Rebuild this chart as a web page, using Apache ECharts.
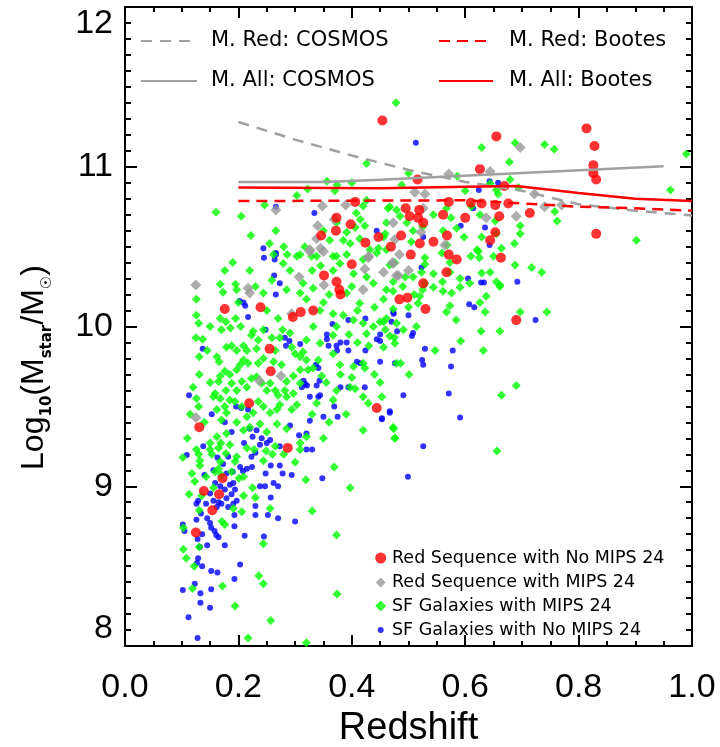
<!DOCTYPE html>
<html>
<head>
<meta charset="utf-8">
<script src="https://cdn.jsdelivr.net/npm/echarts@6/dist/echarts.min.js"></script>
<style>html,body{margin:0;padding:0;background:#fff;}#c{width:720px;height:747px;}</style>
</head>
<body>
<div id="c"></div>
<script>
// ---- tick labels ----
const xTicks = [0.0, 0.2, 0.4, 0.6, 0.8, 1.0];
const yTicks = [8, 9, 10, 11, 12];

// ---- characteristic mass curves [redshift, log M] ----
const cosmosRed = [[0.2,11.28],[0.3,11.17],[0.4,11.07],[0.5,10.98],[0.6,10.905],[0.7,10.85],[0.8,10.765],[0.9,10.725],[1.0,10.695]];
const cosmosAll = [[0.2,10.905],[0.35,10.905],[0.45,10.918],[0.95,11.003]];
const bootesRed = [[0.2,10.785],[0.6,10.79],[0.7,10.77],[0.8,10.75],[0.9,10.74],[1.0,10.725]];
const bootesAll = [[0.2,10.87],[0.45,10.865],[0.6,10.875],[0.69,10.88],[0.8,10.835],[0.9,10.80],[1.0,10.785]];

// ---- Red sequence, no MIPS 24 ----
const redNoMips = [[0.454,11.29],[0.655,11.19],[0.814,11.24],[0.828,11.13],[0.826,11.01],[0.826,10.96],[0.831,10.92],[0.831,10.58],[0.626,10.985],[0.516,10.92],[0.669,10.88],[0.714,10.71],[0.676,10.77],[0.653,10.76],[0.629,10.77],[0.61,10.775],[0.571,10.78],[0.561,10.70],[0.60,10.68],[0.66,10.69],[0.568,10.57],[0.571,10.45],[0.585,10.42],[0.567,10.34],[0.653,10.59],[0.644,10.54],[0.663,10.43],[0.544,10.53],[0.52,10.52],[0.495,10.74],[0.502,10.69],[0.517,10.68],[0.519,10.73],[0.526,10.65],[0.487,10.57],[0.469,10.50],[0.504,10.45],[0.526,10.27],[0.406,10.78],[0.373,10.68],[0.372,10.60],[0.398,10.64],[0.346,10.57],[0.424,10.525],[0.447,10.56],[0.484,10.17],[0.498,10.18],[0.53,10.11],[0.69,10.04],[0.176,10.11],[0.239,10.12],[0.255,9.86],[0.257,9.72],[0.219,9.52],[0.131,9.37],[0.287,9.24],[0.296,10.06],[0.31,10.09],[0.332,10.10],[0.351,10.32],[0.378,10.23],[0.38,10.20],[0.40,10.39],[0.373,10.28],[0.444,9.49],[0.172,9.05],[0.139,8.97],[0.166,8.95],[0.154,8.85],[0.125,8.71]];

// ---- Red sequence with MIPS 24 ----
const grayMips = [[0.697,11.12],[0.571,10.955],[0.644,10.97],[0.511,10.84],[0.529,10.83],[0.526,10.74],[0.722,10.83],[0.74,10.75],[0.77,10.76],[0.69,10.69],[0.637,10.68],[0.473,10.65],[0.476,10.545],[0.522,10.59],[0.484,10.45],[0.472,10.40],[0.50,10.35],[0.482,10.32],[0.456,10.34],[0.564,10.51],[0.266,10.73],[0.348,10.755],[0.389,10.76],[0.369,10.67],[0.34,10.63],[0.338,10.55],[0.326,10.48],[0.345,10.49],[0.43,10.44],[0.125,10.26],[0.217,10.24],[0.22,10.21],[0.237,9.66],[0.275,9.69],[0.125,9.43],[0.294,10.08],[0.307,10.31],[0.351,10.26],[0.42,10.23],[0.423,10.36],[0.473,10.395],[0.479,10.32],[0.326,10.47],[0.35,10.47],[0.429,10.43]];

// ---- SF galaxies with MIPS 24 ----
const greenMips = [[0.102,9.18],[0.103,8.74],[0.103,8.605],[0.108,8.55],[0.122,8.50],[0.119,8.36],[0.131,8.62],[0.172,8.375],[0.194,8.25],[0.217,8.05],[0.257,8.16],[0.32,8.02],[0.236,8.44],[0.244,8.39],[0.244,8.64],[0.373,8.695],[0.374,8.325],[0.33,8.845],[0.256,8.86],[0.206,8.84],[0.191,8.86],[0.176,8.76],[0.171,8.78],[0.131,8.85],[0.135,8.94],[0.209,8.94],[0.23,8.93],[0.225,8.99],[0.319,9.04],[0.397,8.99],[0.369,9.12],[0.309,9.23],[0.123,9.03],[0.156,8.99],
[0.126,9.23],[0.13,9.20],[0.132,9.16],[0.132,9.13],[0.143,9.06],[0.153,9.20],[0.15,9.23],[0.159,9.09],[0.165,9.11],[0.168,9.155],[0.169,9.27],[0.178,9.205],[0.185,9.26],[0.188,9.09],[0.194,9.155],[0.197,9.185],[0.201,9.05],[0.209,9.06],[0.215,9.24],[0.228,9.23],[0.244,9.16],[0.249,9.22],[0.26,9.20],[0.265,9.25],[0.17,9.07],[0.113,8.95],[0.118,9.08],
[0.176,10.35],[0.168,10.265],[0.195,10.265],[0.173,10.215],[0.197,10.23],[0.126,10.17],[0.126,10.07],[0.13,10.02],[0.125,9.93],[0.137,9.92],[0.131,9.81],[0.131,9.70],[0.126,9.55],[0.13,9.50],[0.168,10.05],[0.178,10.03],[0.186,9.99],[0.195,10.05],[0.204,10.0],[0.17,9.98],[0.162,9.81],[0.166,9.78],[0.179,9.87],[0.188,9.88],[0.197,9.85],[0.209,9.88],[0.215,9.85],[0.223,9.945],[0.226,9.97],[0.235,9.915],[0.244,9.98],[0.232,9.86],[0.259,9.93],[0.265,9.85],[0.273,9.93],[0.278,9.98],[0.291,9.96],[0.294,9.87],[0.30,9.83],[0.309,9.81],[0.314,9.84],[0.32,9.79],[0.323,9.73],[0.332,9.74],[0.341,9.79],[0.347,9.69],[0.309,9.73],[0.297,9.69],[0.285,9.655],[0.276,9.76],[0.262,9.78],[0.244,9.80],[0.235,9.77],[0.217,9.77],[0.209,9.79],[0.203,9.76],[0.197,9.73],[0.185,9.70],[0.176,9.72],[0.168,9.69],[0.165,9.655],[0.159,9.58],[0.156,9.56],[0.168,9.55],[0.178,9.60],[0.188,9.645],[0.197,9.60],[0.206,9.655],[0.215,9.62],[0.223,9.675],[0.232,9.685],[0.241,9.645],[0.25,9.60],[0.256,9.645],[0.265,9.60],[0.27,9.57],[0.282,9.60],[0.285,9.56],[0.297,9.58],[0.303,9.51],[0.294,9.48],[0.273,9.51],[0.268,9.48],[0.256,9.46],[0.244,9.50],[0.235,9.53],[0.226,9.46],[0.215,9.435],[0.206,9.50],[0.194,9.53],[0.185,9.54],[0.176,9.50],[0.162,9.48],[0.17,9.415],[0.179,9.46],[0.197,9.40],[0.209,9.35],[0.22,9.37],[0.238,9.39],[0.25,9.34],[0.268,9.39],[0.285,9.36],[0.309,9.27],[0.32,9.31],[0.179,9.33],[0.162,9.31],[0.15,9.27],[0.165,9.24],[0.32,9.915],[0.332,10.0],[0.344,9.895],[0.367,9.83],[0.379,9.76],[0.403,9.75],[0.42,9.77],[0.423,9.74],[0.397,9.62],[0.406,9.61],[0.42,9.56],[0.429,9.52],[0.453,9.56],[0.473,9.37],[0.476,9.30],[0.373,9.60],[0.367,9.54],[0.338,9.52],[0.309,9.645],[0.367,9.945],[0.373,10.0],[0.385,10.07],[0.403,10.04],[0.42,10.02],[0.426,9.955],[0.438,10.0],[0.45,10.03],[0.461,10.05],[0.459,9.98],[0.467,9.94],[0.476,9.895],[0.367,10.08],[0.344,10.10],[0.32,10.17],[0.309,10.21],[0.332,10.24],[0.314,10.27],[0.367,10.35],[0.379,10.395],[0.403,10.33],[0.426,10.31],[0.438,10.27],[0.461,10.23],[0.456,10.17],[0.414,10.145],[0.391,10.21],[0.285,10.23],[0.291,10.35],[0.279,10.395],[0.262,10.45],[0.244,10.21],[0.259,10.29],[0.309,10.45],[0.338,10.44],[0.367,10.44],[0.391,10.45],[0.42,10.42],[0.444,10.46],[0.467,10.385],[0.479,9.77],
[0.35,10.15],[0.36,10.2],[0.33,10.35],[0.345,10.38],[0.4,10.25],[0.41,10.1],[0.44,10.12],[0.395,9.95],[0.41,9.9],[0.43,9.88],[0.38,9.7],[0.355,9.65],[0.4,9.68],[0.44,9.7],[0.45,9.65],[0.33,9.45],[0.36,9.4],[0.39,9.45],[0.28,9.2],[0.3,9.15],[0.35,9.3],[0.42,9.35],[0.25,10.1],[0.27,10.05],[0.23,10.25],[0.22,10.35],[0.19,10.4],[0.2,10.15],[0.15,10.0],[0.145,9.85],[0.15,9.65],[0.14,9.4],[0.115,9.45],[0.12,9.62],[0.11,9.3],
[0.1605,10.715],[0.205,10.69],[0.222,10.57],[0.246,10.76],[0.266,10.60],[0.255,10.52],[0.28,10.50],[0.303,10.82],[0.322,10.86],[0.356,10.91],[0.37,10.85],[0.374,10.885],[0.40,10.90],[0.426,11.02],[0.426,10.79],[0.42,10.755],[0.408,10.71],[0.415,10.67],[0.423,10.63],[0.406,10.62],[0.391,10.59],[0.373,10.65],[0.385,10.54],[0.397,10.52],[0.414,10.55],[0.432,10.48],[0.447,10.49],[0.459,10.58],[0.464,10.74],[0.35,10.60],[0.361,10.54],[0.373,10.44],[0.317,10.50],[0.303,10.44],[0.329,10.44],[0.286,10.45],
[0.478,11.40],[0.629,11.12],[0.688,11.15],[0.74,11.14],[0.757,11.11],[0.678,11.03],[0.99,11.08],[0.962,10.855],[0.902,10.54],[0.762,10.66],[0.758,10.72],[0.735,10.34],[0.717,10.37],[0.688,10.385],[0.687,10.52],[0.697,10.58],[0.697,10.63],[0.679,10.92],[0.694,10.87],[0.658,10.83],[0.644,10.895],[0.626,10.70],[0.611,10.75],[0.60,10.85],[0.586,10.94],[0.655,10.58],[0.629,10.56],[0.65,10.44],[0.664,10.49],[0.623,10.47],[0.61,10.44],[0.598,10.56],[0.585,10.615],[0.575,10.68],[0.567,10.74],[0.544,10.70],[0.561,10.60],[0.568,10.51],[0.559,10.46],[0.573,10.40],[0.591,10.30],[0.56,10.28],[0.544,10.33],[0.529,10.43],[0.529,10.39],[0.525,10.625],[0.508,10.60],[0.497,10.65],[0.485,10.69],[0.479,10.73],[0.467,10.75],[0.461,10.65],[0.456,10.56],[0.461,10.48],[0.476,10.40],[0.494,10.31],[0.508,10.31],[0.523,10.34],[0.505,10.53],[0.529,10.27],[0.573,10.34],[0.621,10.48],[0.655,10.28],[0.644,10.34],[0.629,10.335],[0.625,10.43],[0.608,10.27],[0.661,10.25],[0.653,10.66],[0.655,10.855],[0.50,10.96],[0.488,10.885],
[0.697,10.09],[0.744,10.09],[0.628,9.97],[0.661,9.97],[0.632,9.85],[0.592,9.91],[0.547,9.85],[0.486,9.77],[0.501,9.70],[0.69,9.63],[0.664,9.57],[0.474,9.36],[0.476,9.30],[0.656,9.22],[0.584,10.04],[0.567,10.09],[0.573,10.13],[0.635,10.09],[0.637,10.19],[0.626,10.15],[0.661,10.26],[0.591,10.245],[0.576,10.21],[0.561,10.22],[0.544,10.245],[0.525,10.23],[0.52,10.19],[0.517,10.145],[0.50,10.12],[0.514,10.0],[0.491,9.98],[0.475,9.93],[0.456,9.87],[0.479,10.02],[0.456,10.03],[0.473,10.11],[0.473,10.22],[0.473,10.28],[0.49,10.25],[0.51,10.2]];

// ---- SF galaxies with no MIPS 24 ----
const blueNoMips = [[0.109,9.196],[0.102,8.76],[0.105,8.72],[0.102,8.35],[0.112,8.18],[0.128,8.05],[0.133,8.33],[0.133,8.27],[0.123,8.39],[0.129,8.55],[0.136,8.50],[0.127,8.52],[0.152,8.47],[0.163,8.46],[0.152,8.355],[0.150,8.24],[0.193,8.42],[0.203,8.51],[0.176,8.63],[0.145,8.63],[0.132,8.62],[0.128,8.67],[0.136,8.70],[0.152,8.74],[0.161,8.695],[0.165,8.68],[0.145,8.80],[0.150,8.77],[0.158,8.72],[0.193,8.75],[0.211,8.69],[0.245,8.685],[0.129,8.91],[0.126,8.89],[0.134,8.83],[0.126,8.79],[0.165,8.90],[0.193,8.82],[0.23,8.876],[0.23,8.82],[0.252,8.82],[0.257,8.93],[0.27,8.80],[0.30,8.78],[0.247,9.0],[0.238,9.0],[0.262,9.02],[0.27,9.0],[0.294,9.07],[0.278,9.08],[0.273,9.13],[0.257,9.13],[0.248,9.08],[0.224,9.12],[0.215,9.11],[0.208,9.095],[0.32,9.23],[0.33,9.23],[0.348,9.05],
[0.159,9.02],[0.168,9.0],[0.176,8.98],[0.185,9.01],[0.191,9.02],[0.194,8.98],[0.188,8.95],[0.179,8.925],[0.17,8.89],[0.182,8.87],[0.191,8.89],[0.197,8.91],[0.162,8.87],[0.156,8.91],[0.15,8.955],[0.143,8.89],[0.179,9.08],[0.19,9.09],[0.203,9.12],[0.173,9.14],[0.156,9.10],[0.14,9.07],[0.182,9.185],[0.163,9.18],[0.223,9.185],[0.23,9.21],[0.25,9.27],[0.238,9.26],[0.21,9.27],
[0.113,9.57],[0.137,9.86],[0.153,9.45],[0.217,10.06],[0.212,10.13],[0.209,10.15],[0.248,9.98],[0.263,10.32],[0.266,10.20],[0.264,10.42],[0.266,10.45],[0.273,10.27],[0.282,9.93],[0.284,9.88],[0.309,9.89],[0.312,9.62],[0.315,9.66],[0.318,9.64],[0.321,9.63],[0.326,9.56],[0.341,9.56],[0.344,9.57],[0.338,9.63],[0.343,9.66],[0.337,9.76],[0.341,9.74],[0.356,9.95],[0.356,9.92],[0.359,9.88],[0.366,10.015],[0.373,9.88],[0.374,9.85],[0.38,9.90],[0.391,9.90],[0.394,9.85],[0.394,10.04],[0.409,9.78],[0.415,9.77],[0.394,9.62],[0.38,9.62],[0.423,9.62],[0.424,9.85],[0.424,10.05],[0.369,9.50],[0.375,9.435],[0.35,9.435],[0.326,9.41],[0.291,9.38],[0.307,9.32],[0.32,9.33],[0.241,9.30],[0.256,9.29],[0.273,9.25],[0.47,10.03],[0.473,10.09],[0.476,9.77],[0.453,9.425],[0.467,9.47],[0.444,9.92],[0.45,9.95],[0.202,10.16],[0.196,9.50],[0.205,9.49],[0.217,9.48],[0.188,9.34],[0.176,9.40],[0.22,9.36],[0.232,9.35],[0.225,9.31],[0.138,9.25],[0.29,9.91],
[0.266,10.75],[0.334,10.71],[0.444,10.60],[0.244,10.49],[0.266,10.46],[0.245,10.43],
[0.513,11.15],[0.624,10.855],[0.643,10.91],[0.658,10.90],[0.614,10.74],[0.592,10.63],[0.635,10.62],[0.526,10.56],[0.643,10.51],[0.523,10.37],[0.605,10.30],[0.628,10.275],[0.633,10.275],[0.692,10.28],
[0.607,10.14],[0.616,10.12],[0.50,10.07],[0.474,10.08],[0.48,9.97],[0.506,9.94],[0.508,9.96],[0.724,10.04],[0.529,9.86],[0.578,9.85],[0.524,9.79],[0.526,9.76],[0.575,9.75],[0.45,9.78],[0.45,9.91],[0.491,9.57],[0.571,9.58],[0.467,9.46],[0.453,9.42],[0.591,9.43],[0.526,9.25],[0.499,9.06]];

const names = {
  cr: 'M. Red: COSMOS', br: 'M. Red: Bootes', ca: 'M. All: COSMOS', ba: 'M. All: Bootes',
  r: 'Red Sequence with No MIPS 24', g: 'Red Sequence with MIPS 24',
  s: 'SF Galaxies with MIPS 24', b: 'SF Galaxies with No MIPS 24'
};

const chart = echarts.init(document.getElementById('c'), null, {renderer: 'canvas'});
const black = '#000';
const tickFont = {fontFamily: 'Liberation Sans, Arial, sans-serif', fontSize: 34, color: black};

function xAx(pos, showLabel) {
  return {
    type: 'value', position: pos, min: 0, max: 1, interval: 0.2,
    axisLine: {show: true, onZero: false, lineStyle: {color: black, width: 2}},
    axisTick: {show: true, inside: true, length: 11, lineStyle: {color: black, width: 2}},
    minorTick: {show: true, splitNumber: 4, length: 5, lineStyle: {color: black, width: 2}},
    splitLine: {show: false},
    axisLabel: Object.assign({show: showLabel, margin: 25, formatter: v => v.toFixed(1)}, tickFont),
    name: showLabel ? 'Redshift' : '', nameLocation: 'middle', nameGap: 57,
    nameTextStyle: {fontFamily: 'Liberation Sans, Arial, sans-serif', fontSize: 38, color: black}
  };
}
function yAx(pos, showLabel) {
  return {
    type: 'value', position: pos, min: 8, max: 12, interval: 1,
    axisLine: {show: true, onZero: false, lineStyle: {color: black, width: 2}},
    axisTick: {show: true, inside: true, length: 12, lineStyle: {color: black, width: 2}},
    minorTick: {show: true, splitNumber: 10, length: 6, lineStyle: {color: black, width: 2}},
    splitLine: {show: false},
    axisLabel: Object.assign({show: showLabel, margin: 12, formatter: v => String(Math.round(v)),
      verticalAlignMaxLabel: 'top', verticalAlignMinLabel: 'bottom'}, tickFont),
    name: showLabel ? '{n|Log}{s|10}{n|(M}{s|star}{n|/M}{s|\u2609}{n|)}' : '',
    nameLocation: 'middle', nameRotate: 90, nameGap: 70,
    nameTextStyle: {
      padding: [0, 82, 0, 0],
      rich: {
        n: {fontFamily: 'Liberation Sans, DejaVu Sans, sans-serif', fontSize: 32, lineHeight: 42, color: black},
        s: {fontFamily: 'DejaVu Sans, sans-serif', fontSize: 15, fontWeight: 'bold', lineHeight: 23, verticalAlign: 'bottom', color: black}
      }
    }
  };
}

const hiddenSymbol = {color: 'rgba(0,0,0,0)', borderColor: 'rgba(0,0,0,0)', borderWidth: 0};
function lineLegend(name, left, centerY, w, pad) {
  return {
    data: [name], left: left, top: centerY - 12, padding: 0, itemWidth: w, itemHeight: 24,
    selectedMode: false, itemStyle: hiddenSymbol,
    textStyle: {fontFamily: 'DejaVu Sans, sans-serif', fontSize: 21, color: black, lineHeight: 24,
      padding: [0, 0, 0, pad]}
  };
}
function markLegend(name, centerY, size) {
  const left = 380.7 - size / 2;
  return {
    data: [name], left: left, top: centerY - 11, padding: 0, itemWidth: size, itemHeight: size,
    selectedMode: false,
    textStyle: {fontFamily: 'DejaVu Sans, sans-serif', fontSize: 17.5, color: black, lineHeight: 22,
      padding: [0, 0, 0, 392 - (left + size + 5)]}
  };
}

const option = {
  backgroundColor: '#fff',
  animation: false,
  grid: {left: 125, right: 28, top: 7, bottom: 101, containLabel: false, outerBoundsMode: 'none'},
  xAxis: [xAx('bottom', true), xAx('top', false)],
  yAxis: [yAx('left', true), yAx('right', false)],
  legend: [
    lineLegend(names.cr, 140, 41, 56, 9),
    lineLegend(names.ca, 140, 81, 56, 9),
    lineLegend(names.br, 438, 41, 54, 11),
    lineLegend(names.ba, 438, 81, 54, 11),
    markLegend(names.r, 558, 11),
    markLegend(names.g, 582.5, 10),
    markLegend(names.s, 606, 11),
    markLegend(names.b, 630, 6)
  ],
  series: [
    {name: names.b, type: 'scatter', data: blueNoMips, symbol: 'circle', symbolSize: 6, itemStyle: {color: '#0000ff'}},
    {name: names.s, type: 'scatter', data: greenMips, symbol: 'diamond', symbolSize: 9, itemStyle: {color: '#00ff00'}},
    {name: names.g, type: 'scatter', data: grayMips, symbol: 'diamond', symbolSize: 11, itemStyle: {color: '#999999'}},
    {name: names.r, type: 'scatter', data: redNoMips, symbol: 'circle', symbolSize: 10, itemStyle: {color: '#ff0000'}},
    {name: names.cr, type: 'line', data: cosmosRed, symbol: 'none', showSymbol: false, itemStyle: {color: '#a0a0a0'}, lineStyle: {color: '#a0a0a0', width: 2.5, type: [11, 8]}},
    {name: names.ca, type: 'line', data: cosmosAll, symbol: 'none', showSymbol: false, itemStyle: {color: '#a0a0a0'}, lineStyle: {color: '#a0a0a0', width: 2.5, type: 'solid'}},
    {name: names.br, type: 'line', data: bootesRed, symbol: 'none', showSymbol: false, itemStyle: {color: '#ff0000'}, lineStyle: {color: '#ff0000', width: 2.5, type: [11, 7]}},
    {name: names.ba, type: 'line', data: bootesAll, symbol: 'none', showSymbol: false, itemStyle: {color: '#ff0000'}, lineStyle: {color: '#ff0000', width: 2.5, type: 'solid'}}
  ]
};
chart.setOption(option);
</script>
</body>
</html>
